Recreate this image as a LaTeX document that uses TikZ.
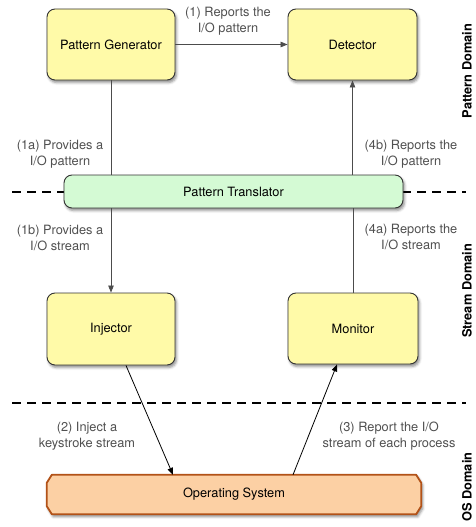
\documentclass[tikz,border=0pt]{standalone}
\usepackage{fontspec}
\setmainfont{TeX Gyre Heros}
\usetikzlibrary{arrows.meta,shadows.blur,backgrounds}

\definecolor{boxyellow}{RGB}{255,250,168}
\definecolor{boxgreen}{RGB}{212,250,212}
\definecolor{osfill}{RGB}{252,208,164}
\definecolor{osline}{RGB}{178,82,24}
\definecolor{notegray}{RGB}{80,80,80}

\tikzset{
    boxshadow/.style={blur shadow={shadow xshift=1.5pt, shadow yshift=-2.5pt, shadow blur radius=2.5pt, shadow opacity=45}},
    compbox/.style={draw=black!80, line width=0.9pt, rounded corners=8pt, fill=boxyellow, boxshadow, font=\fontsize{12.8}{15}\selectfont},
    transbox/.style={compbox, fill=boxgreen},
    osbox/.style={minimum width=374pt, minimum height=39pt, font=\fontsize{12.8}{15}\selectfont},
    osedge/.style={draw=osline, line width=1.8pt, fill=osfill, line join=round, boxshadow},
    note/.style={align=center, text=notegray, font=\fontsize{12.8}{16}\selectfont},
    domainname/.style={rotate=90, font=\fontsize{12.8}{15}\selectfont\bfseries},
    flow/.style={draw=black!70, line width=0.8pt},
    flowarrow/.style={flow, -{Triangle[length=7pt,width=5.5pt]}},
    cut/.style={line width=1.4pt, dash pattern=on 9pt off 6pt}
}

\begin{document}
\begin{tikzpicture}[x=1pt, y=-1pt]
        \useasboundingbox (0,0) rectangle (475,527);

        % Draw the domain borders
        \draw[cut] (12,192) -- (466,192);
        \draw[cut] (12,403) -- (466,403);

        % Pattern domain
        \node[compbox, minimum width=128pt, minimum height=71pt] (gen) at (111,44.5) {Pattern Generator};
        \node[compbox, minimum width=129pt, minimum height=71pt] (det) at (352.5,44.5) {Detector};

        % Translator on the border
        \node[transbox, minimum width=339pt, minimum height=33pt] (trans) at (233.5,191.5) {Pattern Translator};

        % Stream domain
        \node[compbox, minimum width=128pt, minimum height=72pt] (inj) at (111,329) {Injector};
        \node[compbox, minimum width=130pt, minimum height=71pt] (mon) at (353,328.5) {Monitor};

        % OS domain, chamfered box drawn behind its label
        \node[osbox] (os) at (234,494.5) {Operating System};
        \begin{scope}[on background layer]
            \draw[osedge] ([xshift=5pt]os.north west) -- ([xshift=-5pt]os.north east) -- ([yshift=-8pt]os.north east) -- ([yshift=8pt]os.south east) -- ([xshift=-5pt]os.south east) -- ([xshift=5pt]os.south west) -- ([yshift=8pt]os.south west) -- ([yshift=-8pt]os.north west) -- cycle;
        \end{scope}

        % Connectors
        \draw[flowarrow] (gen.east) -- (det.west);
        \draw[flow] (gen.south) -- (gen.south |- trans.north);
        \draw[flowarrow] (det.south |- trans.north) -- (det.south);
        \draw[flowarrow] (gen.south |- trans.south) -- (inj.north);
        \draw[flow] (mon.north) -- (mon.north |- trans.south);
        \draw[flowarrow, draw=black] ([xshift=15pt]inj.south) -- ([xshift=-61pt]os.north);
        \draw[flowarrow, draw=black] ([xshift=59pt]os.north) -- ([xshift=-16pt]mon.south);

        % Connector labels
        \node[note] (l1) at (228,21) {(1) Reports the\\I/O pattern};
        \node[note] (l1a) at (60,154) {(1a) Provides a\\I/O pattern};
        \node[note] (l4b) at (411,154) {(4b) Reports the\\I/O pattern};
        \node[note] (l1b) at (60,238) {(1b) Provides a\\I/O stream};
        \node[note] (l4a) at (411,237) {(4a) Reports the\\I/O stream};
        \node[note] (l2) at (87,436) {(2) Inject a\\keystroke stream};
        \node[note] (l3) at (389,436) {(3) Report the I/O\\stream of each process};

        % Domain names
        \node[domainname] (pd) at (467,71) {Pattern Domain};
        \node[domainname] (sd) at (467,291) {Stream Domain};
        \node[domainname] (od) at (467,487) {OS Domain};

    \end{tikzpicture}
\end{document}
